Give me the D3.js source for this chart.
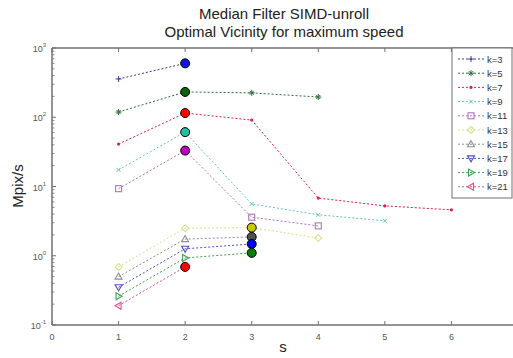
<!DOCTYPE html>
<html>
<head>
<meta charset="utf-8">
<script src="https://cdn.jsdelivr.net/npm/d3@7"></script>
<style>
  body { margin: 0; background: #fff; }
  svg { font-family: "Liberation Sans", Arial, sans-serif; }
</style>
</head>
<body>
<div id="plot"></div>
<script>
// s values (x axis) and series values (Mpix/s)
var sValues = [1, 2, 3, 4, 5, 6];
var kLabels = ["k=3", "k=5", "k=7", "k=9", "k=11", "k=13", "k=15", "k=17", "k=19", "k=21"];
var k3  = [357, 600];
var k5  = [119, 232, 225, 196];
var k7  = [41, 115, 91, 6.8, 5.25, 4.6];
var k9  = [17.4, 61, 5.6, 3.9, 3.2];
var k11 = [9.3, 33, 3.6, 2.7];
var k13 = [0.69, 2.5, 2.55, 1.8];
var k15 = [0.5, 1.74, 1.87];
var k17 = [0.35, 1.26, 1.48];
var k19 = [0.26, 0.93, 1.1];
var k21 = [0.19, 0.69];
// s at which each k reaches its maximum speed
var bestS = [2, 2, 2, 2, 2, 3, 3, 3, 3, 2];
var xTicks = [0, 1, 2, 3, 4, 5, 6];
var yExps = [-1, 0, 1, 2, 3];

var seriesVals = [k3, k5, k7, k9, k11, k13, k15, k17, k19, k21];
var lineColors = ["#3c3c96", "#2f6f3a", "#e0204a", "#60c8b0", "#b070c8", "#d4e48a", "#909090", "#5050d0", "#40a050", "#e05080"];
var bestColors = ["#1414e0", "#106010", "#ff0000", "#20c0a0", "#c000c0", "#c8c800", "#505050", "#0000ff", "#008000", "#ff0000"];
var markers = ["plus", "star", "dot", "cross", "square", "diamond", "up", "down", "right", "left"];

var width = 513, height = 358;
var svg = d3.select("#plot").append("svg").attr("width", width).attr("height", height);

var xScale = d3.scaleLinear().domain([0, 7]).range([52, 518]);
var yScale = d3.scaleLog().domain([0.1, 1000]).range([325, 48]);

// axes box (left, top, bottom; right edge falls outside the picture)
var axisColor = "#707070";
svg.append("line").attr("x1", xScale(0)).attr("x2", xScale(7)).attr("y1", yScale(0.1)).attr("y2", yScale(0.1))
   .attr("stroke", axisColor).attr("stroke-width", 1.5);
svg.append("line").attr("x1", xScale(0)).attr("x2", xScale(7)).attr("y1", yScale(1000)).attr("y2", yScale(1000))
   .attr("stroke", axisColor).attr("stroke-width", 1.5);
svg.append("line").attr("x1", xScale(0)).attr("x2", xScale(0)).attr("y1", yScale(0.1)).attr("y2", yScale(1000))
   .attr("stroke", axisColor).attr("stroke-width", 1.5);

// x ticks (inward, top and bottom) and labels
xTicks.forEach(function(t) {
  svg.append("line").attr("x1", xScale(t)).attr("x2", xScale(t)).attr("y1", yScale(0.1)).attr("y2", yScale(0.1) - 4)
     .attr("stroke", axisColor);
  svg.append("line").attr("x1", xScale(t)).attr("x2", xScale(t)).attr("y1", yScale(1000)).attr("y2", yScale(1000) + 4)
     .attr("stroke", axisColor);
  svg.append("text").attr("x", xScale(t)).attr("y", yScale(0.1) + 15).attr("text-anchor", "middle")
     .attr("font-size", 9).attr("fill", "#555").text(t);
});

// y ticks (log, with minor ticks) and labels 10^n
yExps.forEach(function(e) {
  var v = Math.pow(10, e);
  svg.append("line").attr("x1", xScale(0)).attr("x2", xScale(0) + 4).attr("y1", yScale(v)).attr("y2", yScale(v))
     .attr("stroke", axisColor);
  var lab = svg.append("text").attr("x", 46).attr("y", yScale(v) + 4).attr("text-anchor", "end")
     .attr("font-size", 9).attr("fill", "#555");
  lab.append("tspan").text("10");
  lab.append("tspan").attr("dy", -5).attr("font-size", 6).text(e);
  if (e < 3) {
    for (var m = 2; m <= 9; m++) {
      svg.append("line").attr("x1", xScale(0)).attr("x2", xScale(0) + 2.5)
         .attr("y1", yScale(v * m)).attr("y2", yScale(v * m)).attr("stroke", axisColor).attr("stroke-width", 0.8);
    }
  }
});

// marker shapes
function drawMarker(g, type, cx, cy, color) {
  var s = 3;
  if (type == "plus") {
    g.append("path").attr("d", "M" + (cx - s) + "," + cy + "H" + (cx + s) + "M" + cx + "," + (cy - s) + "V" + (cy + s))
     .attr("stroke", color).attr("stroke-width", 1);
  } else if (type == "star") {
    g.append("path").attr("d", "M" + (cx - s) + "," + cy + "H" + (cx + s) + "M" + cx + "," + (cy - s) + "V" + (cy + s) +
       "M" + (cx - 2) + "," + (cy - 2) + "L" + (cx + 2) + "," + (cy + 2) +
       "M" + (cx - 2) + "," + (cy + 2) + "L" + (cx + 2) + "," + (cy - 2))
     .attr("stroke", color).attr("stroke-width", 1);
  } else if (type == "dot") {
    g.append("circle").attr("cx", cx).attr("cy", cy).attr("r", 1.6).attr("fill", color);
  } else if (type == "cross") {
    g.append("path").attr("d", "M" + (cx - 2) + "," + (cy - 2) + "L" + (cx + 2) + "," + (cy + 2) +
       "M" + (cx - 2) + "," + (cy + 2) + "L" + (cx + 2) + "," + (cy - 2))
     .attr("stroke", color).attr("stroke-width", 1);
  } else if (type == "square") {
    g.append("rect").attr("x", cx - 3).attr("y", cy - 3).attr("width", 6).attr("height", 6)
     .attr("fill", "none").attr("stroke", color).attr("stroke-width", 1.1);
  } else if (type == "diamond") {
    g.append("path").attr("d", "M" + cx + "," + (cy - 3.5) + "L" + (cx + 3.5) + "," + cy + "L" + cx + "," + (cy + 3.5) + "L" + (cx - 3.5) + "," + cy + "Z")
     .attr("fill", "none").attr("stroke", color).attr("stroke-width", 1.1);
  } else {
    var pts;
    if (type == "up") pts = [[0, -3.5], [3.5, 2.5], [-3.5, 2.5]];
    if (type == "down") pts = [[0, 3.5], [3.5, -2.5], [-3.5, -2.5]];
    if (type == "right") pts = [[3.5, 0], [-2.5, -3.5], [-2.5, 3.5]];
    if (type == "left") pts = [[-3.5, 0], [2.5, -3.5], [2.5, 3.5]];
    g.append("path").attr("d", "M" + pts.map(function(p) { return (cx + p[0]) + "," + (cy + p[1]); }).join("L") + "Z")
     .attr("fill", "none").attr("stroke", color).attr("stroke-width", 1.1);
  }
}

var line = d3.line().x(function(d) { return xScale(d[0]); }).y(function(d) { return yScale(d[1]); });

seriesVals.forEach(function(vals, i) {
  var pts = vals.map(function(v, j) { return [sValues[j], v]; });
  var g = svg.append("g");
  g.append("path").attr("d", line(pts)).attr("fill", "none").attr("stroke", lineColors[i])
   .attr("stroke-width", 1).attr("stroke-dasharray", "2,2");
  pts.forEach(function(p) {
    if (p[0] == bestS[i]) return;
    drawMarker(g, markers[i], xScale(p[0]), yScale(p[1]), lineColors[i]);
  });
});

// filled circles at the optimal vicinity
seriesVals.forEach(function(vals, i) {
  var j = sValues.indexOf(bestS[i]);
  svg.append("circle").attr("cx", xScale(bestS[i])).attr("cy", yScale(vals[j])).attr("r", 4.5)
     .attr("fill", bestColors[i]).attr("stroke", "#000").attr("stroke-width", 1);
});

// legend
var lg = svg.append("g");
lg.append("rect").attr("x", 452).attr("y", 48).attr("width", 60).attr("height", 150)
  .attr("fill", "#fff").attr("stroke", axisColor).attr("stroke-width", 1);
kLabels.forEach(function(k, i) {
  var y = 59 + i * 14.2;
  lg.append("line").attr("x1", 458).attr("x2", 484).attr("y1", y).attr("y2", y)
    .attr("stroke", lineColors[i]).attr("stroke-dasharray", "2,2");
  drawMarker(lg, markers[i], 471, y, lineColors[i]);
  lg.append("text").attr("x", 487).attr("y", y + 3.5).attr("font-size", 9.5).attr("fill", "#333").text(k);
});

// titles
svg.append("text").attr("x", 284).attr("y", 19).attr("text-anchor", "middle").attr("font-size", 15).attr("fill", "#222")
   .text("Median Filter SIMD-unroll");
svg.append("text").attr("x", 284).attr("y", 37).attr("text-anchor", "middle").attr("font-size", 15).attr("fill", "#222")
   .text("Optimal Vicinity for maximum speed");
svg.append("text").attr("x", 283).attr("y", 352).attr("text-anchor", "middle").attr("font-size", 15).attr("fill", "#222")
   .text("s");
svg.append("text").attr("transform", "translate(23,186) rotate(-90)").attr("text-anchor", "middle")
   .attr("font-size", 15).attr("fill", "#222").text("Mpix/s");
</script>
</body>
</html>
